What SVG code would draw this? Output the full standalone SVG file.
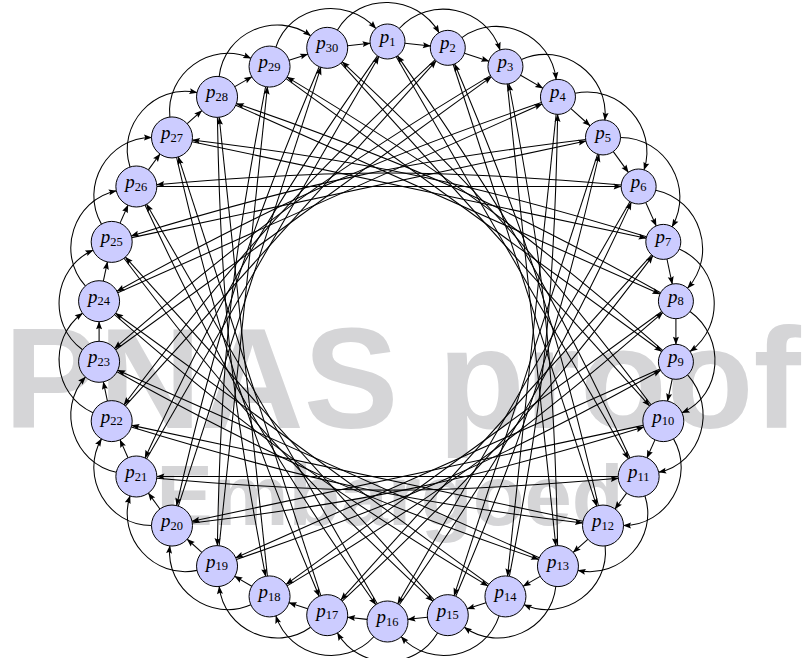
<svg xmlns="http://www.w3.org/2000/svg" xmlns:xlink="http://www.w3.org/1999/xlink" width="808" height="658" viewBox="0 0 808 658">
<style>
.wm{font-family:"Liberation Sans",Arial,sans-serif;font-weight:bold;fill:#d5d5d7}
.e{fill:none;stroke:#000;stroke-width:1.05;marker-end:url(#ah)}
.n circle{fill:#ccccff;stroke:#000;stroke-width:1}
.n text{font-family:"Liberation Serif","Times New Roman",serif;text-anchor:middle;fill:#000}
.p{font-style:italic;font-size:19px}
.s{font-size:12.5px}
</style>
<defs>
<marker id="ah" markerUnits="userSpaceOnUse" markerWidth="10" markerHeight="10" viewBox="-9 -5 10 10" refX="0" refY="0" orient="auto" overflow="visible">
<path d="M0.5,0 L-7.5,-3 L-6.2,0 L-7.5,3 Z" fill="#000"/>
</marker>
<path id="a1ss" class="e" d="M17.40,-288.17 L42.89,-285.49"/>
<path id="a1sd" class="e" d="M17.40,-288.17 L39.90,-285.80"/>
<path id="a1dd" class="e" d="M20.39,-287.86 L39.90,-285.80"/>
<path id="a1ds" class="e" d="M20.39,-287.86 L42.89,-285.49"/>
<path id="a2ss" class="e" d="M11.71,-303.00 C41.95,-336.59 98.57,-324.56 112.54,-281.57"/>
<path id="a2sd" class="e" d="M11.71,-303.00 C41.52,-336.11 97.85,-326.80 111.62,-284.43"/>
<path id="a2dd" class="e" d="M13.72,-305.23 C43.08,-337.84 98.06,-326.16 111.62,-284.43"/>
<path id="a2ds" class="e" d="M13.72,-305.23 C43.53,-338.34 98.77,-323.94 112.54,-281.57"/>
<path id="c10sd" class="e" d="M8.75,-274.84 L240.90,127.25"/>
<path id="c10dd" class="e" d="M10.25,-272.25 L240.90,127.25"/>
<path id="c10ds" class="e" d="M10.25,-272.25 L242.40,129.84"/>
<path id="c20sd" class="e" d="M-10.04,-275.66 C-114.32,-126.73 -165.66,-38.35 -242.49,126.42"/>
<path id="c20dd" class="e" d="M-11.76,-273.21 C-115.41,-125.18 -166.13,-37.35 -242.49,126.42"/>
<path id="c20ds" class="e" d="M-11.76,-273.21 C-116.04,-124.28 -166.92,-35.63 -243.75,129.14"/>
</defs>
<g id="watermark">
<text class="wm" x="4" y="428" font-size="142">PNAS proof</text>
<text class="wm" x="390" y="525" font-size="85" text-anchor="middle">Embargoed</text>
</g>
<g id="connectors">
<g transform="translate(387.5 331.5) rotate(0)"><use href="#a1ss"/><use href="#a2ss"/><use href="#c10sd"/><use href="#c20sd"/></g>
<g transform="translate(387.5 331.5) rotate(12)"><use href="#a1ss"/><use href="#a2ss"/><use href="#c10sd"/><use href="#c20sd"/></g>
<g transform="translate(387.5 331.5) rotate(24)"><use href="#a1ss"/><use href="#a2ss"/><use href="#c10sd"/><use href="#c20sd"/></g>
<g transform="translate(387.5 331.5) rotate(36)"><use href="#a1ss"/><use href="#a2ss"/><use href="#c10sd"/><use href="#c20sd"/></g>
<g transform="translate(387.5 331.5) rotate(48)"><use href="#a1ss"/><use href="#a2ss"/><use href="#c10sd"/><use href="#c20sd"/></g>
<g transform="translate(387.5 331.5) rotate(60)"><use href="#a1ss"/><use href="#a2ss"/><use href="#c10sd"/><use href="#c20sd"/></g>
<g transform="translate(387.5 331.5) rotate(72)"><use href="#a1ss"/><use href="#a2ss"/><use href="#c10sd"/><use href="#c20sd"/></g>
<g transform="translate(387.5 331.5) rotate(84)"><use href="#a1ss"/><use href="#a2sd"/><use href="#c10sd"/><use href="#c20sd"/></g>
<g transform="translate(387.5 331.5) rotate(96)"><use href="#a1sd"/><use href="#a2sd"/><use href="#c10sd"/><use href="#c20sd"/></g>
<g transform="translate(387.5 331.5) rotate(108)"><use href="#a1dd"/><use href="#a2dd"/><use href="#c10dd"/><use href="#c20dd"/></g>
<g transform="translate(387.5 331.5) rotate(120)"><use href="#a1dd"/><use href="#a2dd"/><use href="#c10dd"/><use href="#c20ds"/></g>
<g transform="translate(387.5 331.5) rotate(132)"><use href="#a1dd"/><use href="#a2dd"/><use href="#c10dd"/><use href="#c20ds"/></g>
<g transform="translate(387.5 331.5) rotate(144)"><use href="#a1dd"/><use href="#a2dd"/><use href="#c10dd"/><use href="#c20ds"/></g>
<g transform="translate(387.5 331.5) rotate(156)"><use href="#a1dd"/><use href="#a2dd"/><use href="#c10dd"/><use href="#c20ds"/></g>
<g transform="translate(387.5 331.5) rotate(168)"><use href="#a1dd"/><use href="#a2dd"/><use href="#c10dd"/><use href="#c20ds"/></g>
<g transform="translate(387.5 331.5) rotate(180)"><use href="#a1dd"/><use href="#a2dd"/><use href="#c10dd"/><use href="#c20ds"/></g>
<g transform="translate(387.5 331.5) rotate(192)"><use href="#a1dd"/><use href="#a2dd"/><use href="#c10dd"/><use href="#c20ds"/></g>
<g transform="translate(387.5 331.5) rotate(204)"><use href="#a1dd"/><use href="#a2dd"/><use href="#c10dd"/><use href="#c20ds"/></g>
<g transform="translate(387.5 331.5) rotate(216)"><use href="#a1dd"/><use href="#a2dd"/><use href="#c10dd"/><use href="#c20ds"/></g>
<g transform="translate(387.5 331.5) rotate(228)"><use href="#a1dd"/><use href="#a2dd"/><use href="#c10dd"/><use href="#c20dd"/></g>
<g transform="translate(387.5 331.5) rotate(240)"><use href="#a1dd"/><use href="#a2dd"/><use href="#c10ds"/><use href="#c20dd"/></g>
<g transform="translate(387.5 331.5) rotate(252)"><use href="#a1dd"/><use href="#a2dd"/><use href="#c10ds"/><use href="#c20dd"/></g>
<g transform="translate(387.5 331.5) rotate(264)"><use href="#a1dd"/><use href="#a2dd"/><use href="#c10ds"/><use href="#c20dd"/></g>
<g transform="translate(387.5 331.5) rotate(276)"><use href="#a1dd"/><use href="#a2dd"/><use href="#c10ds"/><use href="#c20dd"/></g>
<g transform="translate(387.5 331.5) rotate(288)"><use href="#a1dd"/><use href="#a2dd"/><use href="#c10ds"/><use href="#c20dd"/></g>
<g transform="translate(387.5 331.5) rotate(300)"><use href="#a1dd"/><use href="#a2dd"/><use href="#c10ds"/><use href="#c20dd"/></g>
<g transform="translate(387.5 331.5) rotate(312)"><use href="#a1dd"/><use href="#a2dd"/><use href="#c10ds"/><use href="#c20dd"/></g>
<g transform="translate(387.5 331.5) rotate(324)"><use href="#a1dd"/><use href="#a2dd"/><use href="#c10ds"/><use href="#c20dd"/></g>
<g transform="translate(387.5 331.5) rotate(336)"><use href="#a1dd"/><use href="#a2ds"/><use href="#c10ds"/><use href="#c20dd"/></g>
<g transform="translate(387.5 331.5) rotate(348)"><use href="#a1ds"/><use href="#a2ds"/><use href="#c10dd"/><use href="#c20dd"/></g>
</g>
<g id="nodes">
<g id="p1" class="n"><circle cx="387.5" cy="41.5" r="17.5"/><text x="387.5" y="43"><tspan class="p">p</tspan><tspan class="s" dy="2.8">1</tspan></text></g>
<g id="p2" class="n"><circle cx="447.79" cy="47.84" r="17.5"/><text x="447.79" y="49.34"><tspan class="p">p</tspan><tspan class="s" dy="2.8">2</tspan></text></g>
<g id="p3" class="n"><circle cx="505.45" cy="66.57" r="17.5"/><text x="505.45" y="68.07"><tspan class="p">p</tspan><tspan class="s" dy="2.8">3</tspan></text></g>
<g id="p4" class="n"><circle cx="557.96" cy="96.88" r="17.5"/><text x="557.96" y="98.38"><tspan class="p">p</tspan><tspan class="s" dy="2.8">4</tspan></text></g>
<g id="p5" class="n"><circle cx="603.01" cy="137.45" r="17.5"/><text x="603.01" y="138.95"><tspan class="p">p</tspan><tspan class="s" dy="2.8">5</tspan></text></g>
<g id="p6" class="n"><circle cx="638.65" cy="186.5" r="17.5"/><text x="638.65" y="188"><tspan class="p">p</tspan><tspan class="s" dy="2.8">6</tspan></text></g>
<g id="p7" class="n"><circle cx="663.31" cy="241.88" r="17.5"/><text x="663.31" y="243.38"><tspan class="p">p</tspan><tspan class="s" dy="2.8">7</tspan></text></g>
<g id="p8" class="n"><circle cx="675.91" cy="301.19" r="17.5"/><text x="675.91" y="302.69"><tspan class="p">p</tspan><tspan class="s" dy="2.8">8</tspan></text></g>
<g id="p9" class="n"><circle cx="675.91" cy="361.81" r="17.5"/><text x="675.91" y="363.31"><tspan class="p">p</tspan><tspan class="s" dy="2.8">9</tspan></text></g>
<g id="p10" class="n"><circle cx="663.31" cy="421.12" r="20.5"/><text x="663.31" y="422.62"><tspan class="p">p</tspan><tspan class="s" dy="2.8">10</tspan></text></g>
<g id="p11" class="n"><circle cx="638.65" cy="476.5" r="20.5"/><text x="638.65" y="478"><tspan class="p">p</tspan><tspan class="s" dy="2.8">11</tspan></text></g>
<g id="p12" class="n"><circle cx="603.01" cy="525.55" r="20.5"/><text x="603.01" y="527.05"><tspan class="p">p</tspan><tspan class="s" dy="2.8">12</tspan></text></g>
<g id="p13" class="n"><circle cx="557.96" cy="566.12" r="20.5"/><text x="557.96" y="567.62"><tspan class="p">p</tspan><tspan class="s" dy="2.8">13</tspan></text></g>
<g id="p14" class="n"><circle cx="505.45" cy="596.43" r="20.5"/><text x="505.45" y="597.93"><tspan class="p">p</tspan><tspan class="s" dy="2.8">14</tspan></text></g>
<g id="p15" class="n"><circle cx="447.79" cy="615.16" r="20.5"/><text x="447.79" y="616.66"><tspan class="p">p</tspan><tspan class="s" dy="2.8">15</tspan></text></g>
<g id="p16" class="n"><circle cx="387.5" cy="621.5" r="20.5"/><text x="387.5" y="623"><tspan class="p">p</tspan><tspan class="s" dy="2.8">16</tspan></text></g>
<g id="p17" class="n"><circle cx="327.21" cy="615.16" r="20.5"/><text x="327.21" y="616.66"><tspan class="p">p</tspan><tspan class="s" dy="2.8">17</tspan></text></g>
<g id="p18" class="n"><circle cx="269.55" cy="596.43" r="20.5"/><text x="269.55" y="597.93"><tspan class="p">p</tspan><tspan class="s" dy="2.8">18</tspan></text></g>
<g id="p19" class="n"><circle cx="217.04" cy="566.12" r="20.5"/><text x="217.04" y="567.62"><tspan class="p">p</tspan><tspan class="s" dy="2.8">19</tspan></text></g>
<g id="p20" class="n"><circle cx="171.99" cy="525.55" r="20.5"/><text x="171.99" y="527.05"><tspan class="p">p</tspan><tspan class="s" dy="2.8">20</tspan></text></g>
<g id="p21" class="n"><circle cx="136.35" cy="476.5" r="20.5"/><text x="136.35" y="478"><tspan class="p">p</tspan><tspan class="s" dy="2.8">21</tspan></text></g>
<g id="p22" class="n"><circle cx="111.69" cy="421.12" r="20.5"/><text x="111.69" y="422.62"><tspan class="p">p</tspan><tspan class="s" dy="2.8">22</tspan></text></g>
<g id="p23" class="n"><circle cx="99.09" cy="361.81" r="20.5"/><text x="99.09" y="363.31"><tspan class="p">p</tspan><tspan class="s" dy="2.8">23</tspan></text></g>
<g id="p24" class="n"><circle cx="99.09" cy="301.19" r="20.5"/><text x="99.09" y="302.69"><tspan class="p">p</tspan><tspan class="s" dy="2.8">24</tspan></text></g>
<g id="p25" class="n"><circle cx="111.69" cy="241.88" r="20.5"/><text x="111.69" y="243.38"><tspan class="p">p</tspan><tspan class="s" dy="2.8">25</tspan></text></g>
<g id="p26" class="n"><circle cx="136.35" cy="186.5" r="20.5"/><text x="136.35" y="188"><tspan class="p">p</tspan><tspan class="s" dy="2.8">26</tspan></text></g>
<g id="p27" class="n"><circle cx="171.99" cy="137.45" r="20.5"/><text x="171.99" y="138.95"><tspan class="p">p</tspan><tspan class="s" dy="2.8">27</tspan></text></g>
<g id="p28" class="n"><circle cx="217.04" cy="96.88" r="20.5"/><text x="217.04" y="98.38"><tspan class="p">p</tspan><tspan class="s" dy="2.8">28</tspan></text></g>
<g id="p29" class="n"><circle cx="269.55" cy="66.57" r="20.5"/><text x="269.55" y="68.07"><tspan class="p">p</tspan><tspan class="s" dy="2.8">29</tspan></text></g>
<g id="p30" class="n"><circle cx="327.21" cy="47.84" r="20.5"/><text x="327.21" y="49.34"><tspan class="p">p</tspan><tspan class="s" dy="2.8">30</tspan></text></g>
</g>
</svg>
